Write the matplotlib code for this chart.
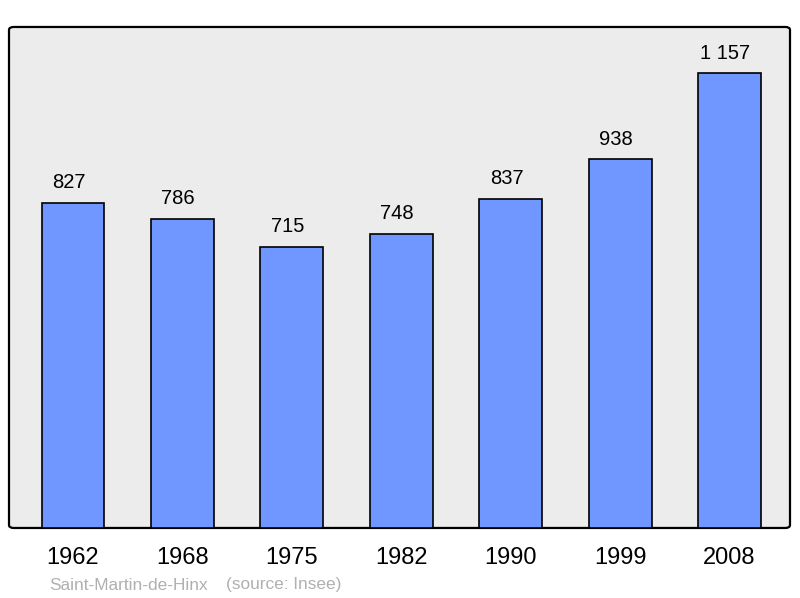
import matplotlib
matplotlib.use("Agg")
import matplotlib.pyplot as plt
from matplotlib.patches import FancyBboxPatch

# data
years = ["1962", "1968", "1975", "1982", "1990", "1999", "2008"]
population = [827, 786, 715, 748, 837, 938, 1157]
value_labels = ["827", "786", "715", "748", "837", "938", "1 157"]

plt.rcParams['font.family'] = ['Liberation Sans', 'DejaVu Sans']

fig = plt.figure(figsize=(8, 5.98), dpi=100)
ax = fig.add_axes([0.01125, 0.1171, 0.97625, 0.8378])
ax.set_facecolor("none")
for s in ax.spines.values():
    s.set_visible(False)

# rounded frame
frame = FancyBboxPatch((0, 0), 1, 1, boxstyle="round,pad=0,rounding_size=0.006",
                       transform=ax.transAxes, facecolor="#ececec",
                       edgecolor="black", linewidth=1.6, zorder=0, clip_on=False)
ax.add_patch(frame)

x = range(len(years))
bars = ax.bar(x, population, width=0.575, color="#7097ff",
              edgecolor="black", linewidth=1.2, zorder=2)

for xi, v, lab in zip(x, population, value_labels):
    ax.annotate(lab, (xi, v), xytext=(-3, 7.5), textcoords="offset points",
                ha="center", va="bottom", fontsize=14.5, color="black")

ax.set_xlim(-0.585, 6.553)
ax.set_ylim(0, 1274)
ax.set_yticks([])
ax.set_xticks(list(x))
ax.set_xticklabels(years, fontsize=17)
ax.tick_params(axis="x", length=0, pad=14)

fig.text(49 / 800, 1 - 585 / 598, "Saint-Martin-de-Hinx", fontsize=12.4,
         color="#b0b0b0", ha="left", va="center")
fig.text(226 / 800, 1 - 585 / 598, "(source: Insee)", fontsize=12.4,
         color="#b0b0b0", ha="left", va="center")

fig.savefig("out.png", dpi=100)
